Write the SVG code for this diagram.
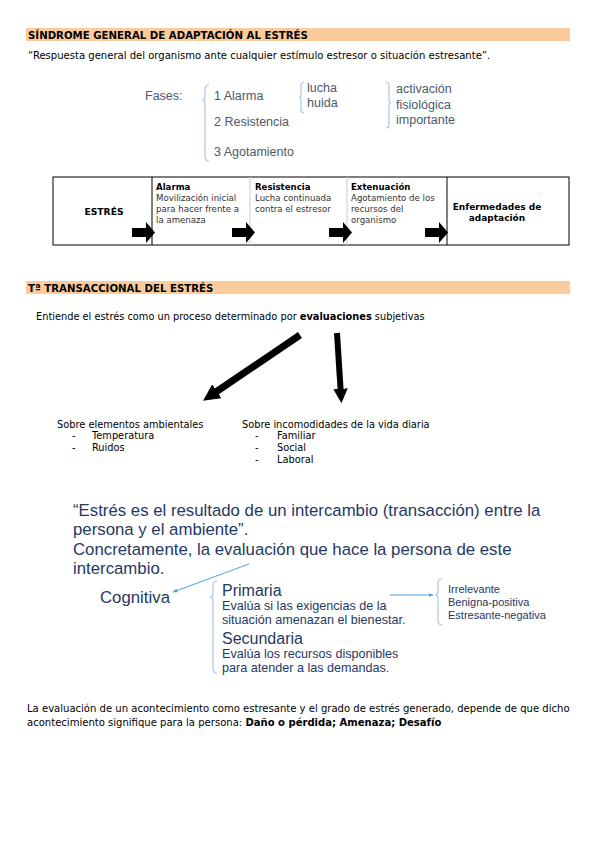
<svg xmlns="http://www.w3.org/2000/svg" width="600" height="848" viewBox="0 0 600 848">
<defs>
<marker id="bigHead" viewBox="0 0 10 10" refX="5" refY="5" markerWidth="2.4" markerHeight="2.4" orient="auto" markerUnits="strokeWidth">
<path d="M0,0 L10,5 L0,10 z" fill="#000"/>
</marker>
<marker id="blueHead" viewBox="0 0 10 10" refX="9" refY="5" markerWidth="5" markerHeight="5" orient="auto" markerUnits="userSpaceOnUse">
<path d="M0,1 L10,5 L0,9 z" fill="#4fa3dc"/>
</marker>
</defs>
<style>
.hdr{fill:#fbcb9c}
.ht{font-family:"DejaVu Sans",sans-serif;font-size:10.2px;font-weight:bold;fill:#000}
.body{font-family:"DejaVu Sans",sans-serif;font-size:9.8px;fill:#000}
.para{font-family:"DejaVu Sans",sans-serif;font-size:10.05px;fill:#000}
.box{font-family:"DejaVu Sans",sans-serif;font-size:8.6px;fill:#000}
.boxg{font-family:"DejaVu Sans",sans-serif;font-size:8.6px;fill:#333}
.b{font-weight:bold}
.fases{font-family:"Liberation Sans",Arial,sans-serif;font-size:12.5px;fill:#4b5a6c}
.brace{fill:none;stroke:#a9c9e6;stroke-width:1.2}
.quote{font-family:"Liberation Sans",Arial,sans-serif;font-size:16.8px;fill:#1f3864}
.sub{font-family:"Liberation Sans",Arial,sans-serif;font-size:16px;fill:#1f3864}
.small{font-family:"Liberation Sans",Arial,sans-serif;font-size:12.6px;fill:#1f3864}
.tiny{font-family:"Liberation Sans",Arial,sans-serif;font-size:11px;fill:#1f3864}
.blk{fill:#000}
</style>

<g id="header1">
<rect class="hdr" x="26" y="28" width="544" height="13"/>
<text class="ht" x="28" y="38.5">SÍNDROME GENERAL DE ADAPTACIÓN AL ESTRÉS</text>
</g>
<g id="definicion">
<text class="para" x="28" y="59">“Respuesta general del organismo ante cualquier estímulo estresor o situación estresante”.</text>
</g>

<g id="fases">
<text class="fases" x="145" y="100">Fases:</text>
<path class="brace" d="M209,85 Q205,85 205,90 L205,96 Q205,100 202,100 Q205,100 205,104 L205,156 Q205,161 209,161"/>
<text class="fases" x="214" y="100">1 Alarma</text>
<text class="fases" x="214" y="126">2 Resistencia</text>
<text class="fases" x="214" y="156">3 Agotamiento</text>
<path class="brace" d="M304,82 Q301,82 301,86 L301,94 Q301,97 299,97 Q301,97 301,100 L301,110 Q301,113 304,113"/>
<text class="fases" x="307" y="92">lucha</text>
<text class="fases" x="307" y="107">huida</text>
<path class="brace" d="M386,82 Q389,82 389,86 L389,100 Q389,103 391,103 Q389,103 389,106 L389,124 Q389,128 386,128"/>
<text class="fases" x="396" y="93">activación</text>
<text class="fases" x="396" y="109">fisiológica</text>
<text class="fases" x="396" y="124">importante</text>
</g>

<g id="tabla">
<rect x="53" y="177" width="516" height="68" fill="#fff" stroke="#000" stroke-width="1"/>
<line x1="152" y1="177" x2="152" y2="245" stroke="#000" stroke-width="1"/>
<line x1="250" y1="177" x2="250" y2="245" stroke="#ccc" stroke-width="1"/>
<line x1="347" y1="177" x2="347" y2="245" stroke="#ccc" stroke-width="1"/>
<line x1="447" y1="177" x2="447" y2="245" stroke="#000" stroke-width="1"/>
<text class="box b" x="104" y="215" text-anchor="middle" style="font-size:9.2px">ESTRÉS</text>
<text class="box b" x="156" y="190">Alarma</text>
<text class="boxg" x="156" y="201">Movilización inicial</text>
<text class="boxg" x="156" y="212">para hacer frente a</text>
<text class="boxg" x="156" y="223">la amenaza</text>
<text class="box b" x="255" y="190">Resistencia</text>
<text class="boxg" x="255" y="201">Lucha continuada</text>
<text class="boxg" x="255" y="212">contra el estresor</text>
<text class="box b" x="351" y="190">Extenuación</text>
<text class="boxg" x="351" y="201">Agotamiento de los</text>
<text class="boxg" x="351" y="212">recursos del</text>
<text class="boxg" x="351" y="223">organismo</text>
<text class="box b" x="497" y="210" text-anchor="middle" style="font-size:9px">Enfermedades de</text>
<text class="box b" x="497" y="221" text-anchor="middle" style="font-size:9px">adaptación</text>
<polygon class="blk" points="132,228 146,228 146,222 155,232.5 146,243 146,237 132,237"/>
<polygon class="blk" points="232,228 246,228 246,222 255,232.5 246,243 246,237 232,237"/>
<polygon class="blk" points="329,228 343,228 343,222 352,232.5 343,243 343,237 329,237"/>
<polygon class="blk" points="425,228 439,228 439,222 448,232.5 439,243 439,237 425,237"/>
</g>

<g id="header2">
<rect class="hdr" x="26" y="281" width="544" height="13"/>
<text class="ht" x="28" y="291.5">Tª TRANSACCIONAL DEL ESTRÉS</text>
</g>
<g id="entiende">
<text class="body" x="36" y="320" fill="#222">Entiende el estrés como un proceso determinado por <tspan class="b">evaluaciones</tspan> subjetivas</text>
</g>

<g id="connectors">
<line x1="300" y1="335" x2="210" y2="396" stroke="#000" stroke-width="7" marker-end="url(#bigHead)"/>
<line x1="337" y1="333" x2="341" y2="396" stroke="#000" stroke-width="6" marker-end="url(#bigHead)"/>
<line x1="249" y1="564" x2="173" y2="592" stroke="#4fa3dc" stroke-width="1" marker-end="url(#blueHead)"/>
<line x1="390" y1="595" x2="433" y2="595" stroke="#4fa3dc" stroke-width="1" marker-end="url(#blueHead)"/>
</g>

<g id="ambientales">
<text class="body" x="57" y="428">Sobre elementos ambientales</text>
<text class="body" x="72" y="439">-</text>
<text class="body" x="92" y="439">Temperatura</text>
<text class="body" x="72" y="451" fill="#666">-</text>
<text class="body" x="92" y="451" fill="#666">Ruidos</text>
</g>
<g id="incomodidades">
<text class="body" x="242" y="428">Sobre incomodidades de la vida diaria</text>
<text class="body" x="255" y="439">-</text>
<text class="body" x="277" y="439">Familiar</text>
<text class="body" x="255" y="451">-</text>
<text class="body" x="277" y="451">Social</text>
<text class="body" x="255" y="463">-</text>
<text class="body" x="277" y="463">Laboral</text>
</g>

<g id="cita">
<text class="quote" x="73" y="516">“Estrés es el resultado de un intercambio (transacción) entre la</text>
<text class="quote" x="73" y="535">persona y el ambiente”.</text>
<text class="quote" x="73" y="555">Concretamente, la evaluación que hace la persona de este</text>
<text class="quote" x="73" y="574">intercambio.</text>
</g>

<g id="cognitiva">
<text class="quote" x="100" y="603">Cognitiva</text>
</g>

<g id="primaria-secundaria">
<path class="brace" d="M217,581 Q213,581 213,586 L213,594 Q213,597 210,597 Q213,597 213,600 L213,668 Q213,673 217,673"/>
<text class="sub" x="222" y="596">Primaria</text>
<text class="small" x="222" y="610">Evalúa si las exigencias de la</text>
<text class="small" x="222" y="624">situación amenazan el bienestar.</text>
<text class="sub" x="222" y="644">Secundaria</text>
<text class="small" x="222" y="658">Evalúa los recursos disponibles</text>
<text class="small" x="222" y="672">para atender a las demandas.</text>
</g>

<g id="tipos">
<path class="brace" d="M442,579 Q438,579 438,583 L438,592 Q438,595 435,595 Q438,595 438,598 L438,620 Q438,625 442,625"/>
<text class="tiny" x="448" y="593">Irrelevante</text>
<text class="tiny" x="448" y="606">Benigna-positiva</text>
<text class="tiny" x="448" y="619">Estresante-negativa</text>
</g>

<g id="conclusion">
<text class="para" x="27" y="712">La evaluación de un acontecimiento como estresante y el grado de estrés generado, depende de que dicho</text>
<text class="para" x="27" y="726">acontecimiento signifique para la persona: <tspan class="b">Daño o pérdida; Amenaza; Desafío</tspan></text>
</g>
</svg>
